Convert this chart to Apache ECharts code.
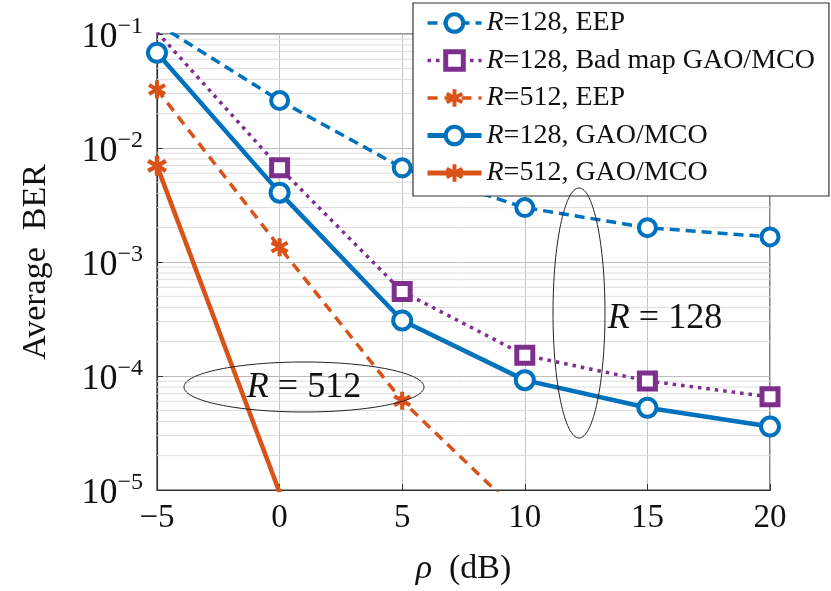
<!DOCTYPE html>
<html>
<head>
<meta charset="utf-8">
<title>Average BER</title>
<script src="https://cdn.jsdelivr.net/npm/echarts@6/dist/echarts.min.js"></script>
<style>
  html, body { margin: 0; padding: 0; background: #fff; }
  #chart { width: 831px; height: 591px; }
</style>
</head>
<body>
<div id="chart"></div>
<script>
// x values (rho in dB)
var rho = [-5, 0, 5, 10, 15, 20];
// BER curves
var eep128    = [0.123, 0.0261, 0.0067, 0.0030, 0.0020, 0.00166];
var badMap128 = [0.104, 0.0067, 0.00055, 0.000152, 0.0000906, 0.0000656];
var eep512    = [0.0326, 0.00135, 0.0000606, 0.0000056];
var gao128    = [0.0684, 0.00406, 0.000307, 0.000092, 0.0000527, 0.000036];
var gao512    = [0.00697, 0.0000095];
var names = ['R=128, EEP', 'R=128, Bad map GAO/MCO', 'R=512, EEP', 'R=128, GAO/MCO', 'R=512, GAO/MCO'];

var BLUE = '#0072BD', PURPLE = '#7E2F8E', ORANGE = '#D95319';
var FONT = 'Liberation Serif';
// six-armed asterisk
var STAR = 'path://M7.8 0L12.2 0L12.2 20L7.8 20Z' +
  'M2.44 16.905L0.24 13.095L17.56 3.095L19.76 6.905Z' +
  'M0.24 6.905L2.44 3.095L19.76 13.095L17.56 16.905Z';

// minor grid lines at 2..9 x 10^k, drawn as broken horizontal segments
var minorGrid = [];
for (var k = -5; k < -1; k++) {
  for (var m = 2; m <= 9; m++) {
    var v = m * Math.pow(10, k);
    minorGrid.push([-5, v], [20, v], [20, '-']);
  }
}

function pairs(ys) {
  return ys.map(function (y, i) { return [rho[i], y]; });
}

var chart = echarts.init(document.getElementById('chart'));
var option = {
  animation: false,
  grid: {
    left: 157, right: 61, top: 34, bottom: 97,
    show: true, borderColor: '#333', borderWidth: 1.2
  },
  legend: {
    data: [
      { name: names[0], itemStyle: { borderWidth: 4 }, lineStyle: { width: 3.5 } },
      { name: names[1], itemStyle: { borderWidth: 5 }, lineStyle: { width: 3.5 } },
      { name: names[2], itemStyle: { borderWidth: 0 }, lineStyle: { width: 3.5 } },
      { name: names[3], itemStyle: { borderWidth: 4 }, lineStyle: { width: 5 } },
      { name: names[4], itemStyle: { borderWidth: 0 }, lineStyle: { width: 5 } }
    ],
    orient: 'vertical',
    left: 413, top: 3,
    padding: [6, 14, 9, 12],
    itemWidth: 54, itemHeight: 22, itemGap: 9.5,
    backgroundColor: '#fff',
    borderColor: '#333', borderWidth: 1.2,
    formatter: function (n) { return '{i|R}' + n.slice(1); },
    textStyle: {
      fontFamily: FONT, fontSize: 28, color: '#111', lineHeight: 28,
      rich: { i: { fontFamily: FONT, fontSize: 28, fontStyle: 'italic', lineHeight: 28 } }
    }
  },
  xAxis: {
    type: 'value', min: -5, max: 20, interval: 5,
    axisLine: { show: true, onZero: false, lineStyle: { color: '#333', width: 1.2 } },
    axisTick: { inside: true, length: 6, lineStyle: { color: '#333' } },
    axisLabel: {
      fontFamily: FONT, fontSize: 33, color: '#111', margin: 12,
      formatter: function (v) { return v < 0 ? '\u2212' + (-v) : String(v); }
    },
    splitLine: { show: true, lineStyle: { color: '#c4c4c4', width: 1 } },
    name: '{i|\u03C1}  (dB)', nameLocation: 'middle', nameGap: 62,
    nameTextStyle: {
      fontFamily: FONT, fontSize: 34, color: '#111',
      rich: { i: { fontFamily: FONT, fontSize: 34, fontStyle: 'italic' } }
    }
  },
  yAxis: {
    type: 'log', logBase: 10, min: 1e-5, max: 0.1,
    axisLine: { show: true, onZero: false, lineStyle: { color: '#333', width: 1.2 } },
    axisTick: { inside: true, length: 6, lineStyle: { color: '#333' } },
    axisLabel: {
      margin: 14,
      formatter: function (v) {
        var e = Math.round(Math.log10(v));
        return '{b|10}{s|\u2212' + Math.abs(e) + '}';
      },
      rich: {
        b: { fontFamily: FONT, fontSize: 36, color: '#111', lineHeight: 38, padding: [8, 0, 0, 0] },
        s: { fontFamily: FONT, fontSize: 24, color: '#111', lineHeight: 22, verticalAlign: 'top' }
      }
    },
    splitLine: { show: true, lineStyle: { color: '#bdbdbd', width: 1 } },
    name: 'Average  BER', nameLocation: 'middle', nameGap: 104,
    nameTextStyle: { fontFamily: FONT, fontSize: 34, color: '#111' }
  },
  series: [
    {
      name: 'minor grid', type: 'line', data: minorGrid, z: 1, silent: true,
      symbol: 'none', connectNulls: false,
      lineStyle: { color: '#dcdcdc', width: 1 }
    },
    {
      name: names[0], type: 'line', data: pairs(eep128), z: 3,
      symbol: 'circle', symbolSize: 17,
      lineStyle: { color: BLUE, width: 3.5, type: [10, 6] },
      itemStyle: { color: '#fff', borderColor: BLUE, borderWidth: 4 }
    },
    {
      name: names[1], type: 'line', data: pairs(badMap128), z: 3,
      symbol: 'rect', symbolSize: 16,
      lineStyle: { color: PURPLE, width: 3.5, type: [3.5, 5] },
      itemStyle: { color: '#fff', borderColor: PURPLE, borderWidth: 5 }
    },
    {
      name: names[2], type: 'line', data: pairs(eep512), z: 3,
      symbol: STAR, symbolSize: 18,
      lineStyle: { color: ORANGE, width: 3.5, type: [10, 7] },
      itemStyle: { color: ORANGE, borderWidth: 0 }
    },
    {
      name: names[3], type: 'line', data: pairs(gao128), z: 4,
      symbol: 'circle', symbolSize: 18,
      lineStyle: { color: BLUE, width: 4.5 },
      itemStyle: { color: '#fff', borderColor: BLUE, borderWidth: 4 }
    },
    {
      name: names[4], type: 'line', data: pairs(gao512), z: 4,
      symbol: STAR, symbolSize: 20,
      lineStyle: { color: ORANGE, width: 4.5 },
      itemStyle: { color: ORANGE, borderWidth: 0 }
    }
  ],
  graphic: [
    { type: 'ellipse', shape: { cx: 579, cy: 313, rx: 26, ry: 125 }, style: { fill: 'none', stroke: '#222', lineWidth: 1 }, z: 10 },
    { type: 'ellipse', shape: { cx: 304, cy: 387, rx: 120, ry: 25 }, style: { fill: 'none', stroke: '#222', lineWidth: 1 }, z: 10 },
    {
      type: 'text', x: 665, y: 319, z: 10,
      style: {
        text: '{i|R} = 128', align: 'center', verticalAlign: 'middle',
        fontFamily: FONT, fontSize: 36, fill: '#111',
        rich: { i: { fontFamily: FONT, fontSize: 36, fontStyle: 'italic' } }
      }
    },
    {
      type: 'text', x: 304, y: 388, z: 10,
      style: {
        text: '{i|R} = 512', align: 'center', verticalAlign: 'middle',
        fontFamily: FONT, fontSize: 36, fill: '#111',
        rich: { i: { fontFamily: FONT, fontSize: 36, fontStyle: 'italic' } }
      }
    }
  ]
};
chart.setOption(option);
</script>
</body>
</html>
